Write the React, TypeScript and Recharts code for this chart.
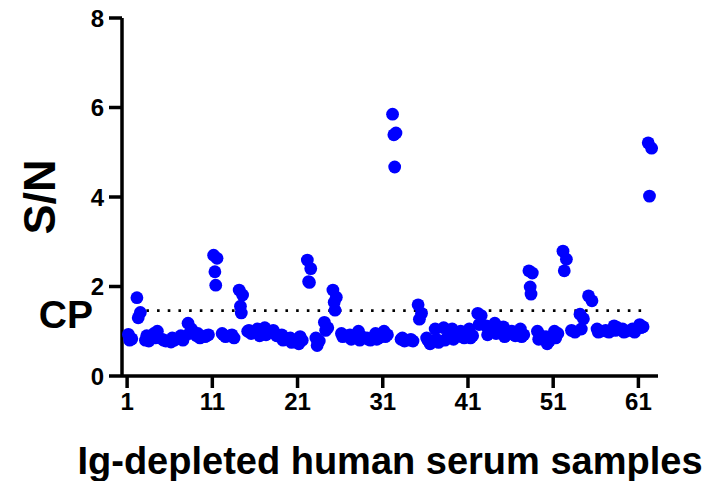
import { ScatterChart, Scatter, XAxis, YAxis, ReferenceLine, Label } from 'recharts'

// S/N replicates per sample, index 0 = sample 1
const sampleValues: number[][] = [
  [0.93, 0.83, 0.8],
  [1.75, 1.42, 1.3],
  [0.8, 0.78, 0.9],
  [0.95, 1.0, 0.85],
  [0.82, 0.78, 0.8],
  [0.76, 0.8, 0.85],
  [0.85, 0.8, 0.9],
  [1.18, 1.05, 0.95],
  [0.9, 0.85, 0.95],
  [0.88, 0.92, 0.9],
  [2.7, 2.63, 2.33, 2.03],
  [0.95, 0.88, 0.92],
  [0.9, 0.85, 0.92],
  [1.92, 1.81, 1.56, 1.41],
  [1.0, 0.95, 1.02],
  [0.98, 0.9, 1.05],
  [1.08, 1.0, 0.92],
  [1.02, 0.9, 0.95],
  [0.92, 0.85, 0.8],
  [0.85, 0.8, 0.75],
  [0.72, 0.8, 0.88],
  [2.59, 2.4, 2.11, 2.09],
  [0.85, 0.78, 0.68],
  [1.2, 1.08, 1.02],
  [1.92, 1.76, 1.65, 1.47],
  [0.95, 0.9, 0.88],
  [0.92, 0.85, 0.82],
  [1.0, 0.88, 0.8],
  [0.85, 0.8, 0.82],
  [0.95, 0.85, 0.82],
  [1.0, 0.92, 0.88],
  [5.85, 5.43, 5.39, 4.67],
  [0.82, 0.78, 0.85],
  [0.8, 0.78, 0.82],
  [1.59, 1.4, 1.27],
  [0.85, 0.72, 0.8],
  [1.05, 0.75, 0.82],
  [1.08, 0.85, 0.8],
  [1.05, 0.9, 0.82],
  [1.0, 0.85, 0.88],
  [1.05, 0.9, 0.85],
  [1.4, 1.35, 1.15],
  [1.12, 1.0, 0.92],
  [1.18, 1.05, 0.95],
  [1.1, 0.92, 0.88],
  [1.0, 0.9, 0.95],
  [1.05, 0.92, 0.88],
  [2.35, 2.3, 1.99, 1.83],
  [1.0, 0.9, 0.82],
  [0.88, 0.78, 0.72],
  [1.0, 0.95, 0.85],
  [2.79, 2.61, 2.35],
  [1.02, 0.98],
  [1.38, 1.28, 1.05],
  [1.79, 1.68],
  [1.05, 1.0, 0.98],
  [1.02, 0.98, 1.0],
  [1.12, 1.08, 1.02],
  [1.05, 1.0, 0.98],
  [1.02, 0.98, 1.05],
  [1.15, 1.1, 1.08],
  [5.21, 5.09, 4.02],
]

// horizontal spread of replicates around each sample
const replicateOffsets = [0.15, 0.55, 0.3, 0.4]

const xTicks = [1, 11, 21, 31, 41, 51, 61]
const yTicks = [0, 2, 4, 6, 8]
const cutPoint = 1.46
const cutStart = 2
const cutEnd = 62

const points = sampleValues.flatMap((vals, i) =>
  vals.map((v, j) => ({ x: i + 1 + replicateOffsets[j], y: v }))
)

const font = "'Liberation Sans', Arial, sans-serif"
const tickStyle = { fill: '#000', fontSize: 24, fontWeight: 700, fontFamily: font }
const axisStroke = { stroke: '#000', strokeWidth: 3.5 }

const Dot = (props: any) => <circle cx={props.cx} cy={props.cy} r={6.4} fill="#0000ff" />

export default function App() {
  return (
    <div style={{ position: 'absolute', left: 0, top: 0, background: '#fff' }}>
      <ScatterChart width={704} height={481} margin={{ top: 18, right: 46, bottom: 0, left: 0 }}>
        <XAxis
          type="number"
          dataKey="x"
          domain={[0.4, 63.3]}
          ticks={xTicks}
          height={105}
          tick={tickStyle}
          tickSize={12}
          tickMargin={5}
          axisLine={axisStroke}
          tickLine={axisStroke}
          allowDataOverflow
        >
          <Label
            content={() => (
              <text x={390} y={474} textAnchor="middle" fontSize={38} fontWeight={700} fontFamily={font} fill="#000">
                Ig-depleted human serum samples
              </text>
            )}
          />
        </XAxis>
        <YAxis
          type="number"
          dataKey="y"
          domain={[0, 8]}
          ticks={yTicks}
          width={122}
          tick={tickStyle}
          tickSize={13}
          tickMargin={5}
          axisLine={axisStroke}
          tickLine={axisStroke}
          allowDataOverflow
        >
          <Label
            content={() => (
              <text
                transform="translate(55,197) rotate(-90)"
                textAnchor="middle"
                fontSize={45}
                fontWeight={700}
                fontFamily={font}
                fill="#000"
              >
                S/N
              </text>
            )}
          />
        </YAxis>
        <ReferenceLine
          segment={[
            { x: cutStart, y: cutPoint },
            { x: cutEnd, y: cutPoint },
          ]}
          stroke="#000"
          strokeWidth={2.6}
          strokeDasharray="2.6 8.1"
          label={{
            content: () => (
              <text x={93} y={328} textAnchor="end" fontSize={39} fontWeight={700} fontFamily={font} fill="#000">
                CP
              </text>
            ),
          }}
        />
        <Scatter data={points} shape={Dot} isAnimationActive={false} />
      </ScatterChart>
    </div>
  )
}
